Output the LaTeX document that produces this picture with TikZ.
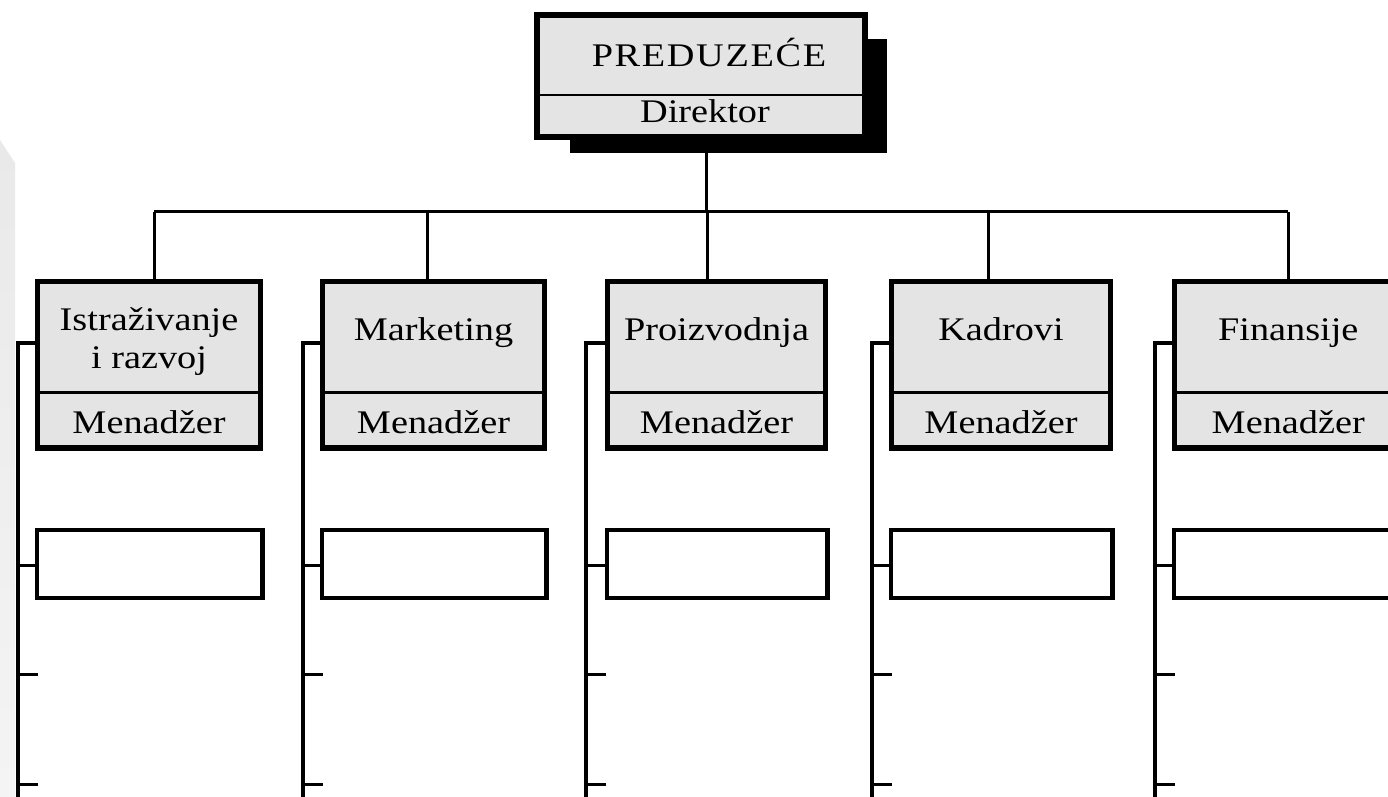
\documentclass[tikz,border=0pt]{standalone}
\usepackage{fontspec}
\setmainfont{Liberation Serif}[FakeStretch=1.16]
\usetikzlibrary{fit}
\definecolor{boxfill}{HTML}{E4E4E4}
\definecolor{edgegray}{HTML}{E9E9E9}
\definecolor{edgelight}{HTML}{F4F4F4}
\begin{document}
\begin{tikzpicture}[x=0.5pt,y=-0.5pt,line join=miter,
  headbox/.style={draw,line width=2.6pt,fill=boxfill,inner sep=0pt},
  blankbox/.style={draw,line width=2.2pt,fill=white,inner sep=0pt},
  divider/.style={line width=1.4pt},
  link/.style={line width=1.5pt},
  label/.style={inner sep=0pt,anchor=base,font=\fontsize{16.5}{19}\selectfont}]
\useasboundingbox (0,0) rectangle (1388,797);
\clip (0,0) rectangle (1388,797);
% page edge strip on the left
\shade[top color=edgegray,bottom color=edgelight] (0,140) -- (15,163) -- (15,797) -- (0,797) -- cycle;

% company box with its drop shadow
\fill (570,39) rectangle (887,153);
\node[headbox,fit={(537,15)(865,137)}] (top) {};
\draw[divider] (top.west |- 0,95) -- (top.east |- 0,95);
\node[label] (company) at (709,67) {\addfontfeature{LetterSpace=5}PREDUZEĆE};
\node[label] (director) at (705,123) {Direktor};

% bus under the company box
\coordinate (bt) at (706,212);
\draw[link] (top.south -| bt) -- (bt);

% departments, their blank sub-units and side rails
\foreach \i/\l/\r/\s/\d in {1/37.5/260.5/18/154, 2/322.5/544.5/303/427,
    3/607.5/825.5/586/707, 4/891.5/1110.5/872/988, 5/1174.5/1402/1155/1288} {
  \node[headbox,fit={(\l,281.5)(\r,448)}] (d\i) {};
  \draw[divider] (d\i.west |- 0,392.5) -- (d\i.east |- 0,392.5);
  \node[blankbox,fit={(\l-0.5,530)(\r+2,598)}] (e\i) {};
  \coordinate (b\i) at (\d,212);
  \coordinate (s\i) at (\s,343);
  \coordinate (z\i) at (\s,810);
  \draw[link] (b\i) -- (b\i |- d\i.north);
  \draw[link,line width=1.7pt] (d\i.west |- s\i) -- (s\i) -- (z\i);
  \draw[link] (e\i.west |- 0,565) -- (s\i |- 0,565);
  \draw[link] (s\i |- 0,674) -- +(20,0);
  \draw[link] (s\i |- 0,784) -- +(20,0);
}
\draw[link] (b1) -- (b5);

% department names and managers
\node[label,align=center] (n1) at (149,368) {Istraživanje\\i razvoj};
\node[label] (n2) at (d2 |- 0,340) {Marketing};
\node[label] (n3) at (d3 |- 0,340) {Proizvodnja};
\node[label] (n4) at (d4 |- 0,340) {Kadrovi};
\node[label] (n5) at (d5 |- 0,340) {Finansije};
\foreach \i in {1,...,5}
  \node[label] (m\i) at (d\i |- 0,433) {Menadžer};
\end{tikzpicture}
\end{document}
